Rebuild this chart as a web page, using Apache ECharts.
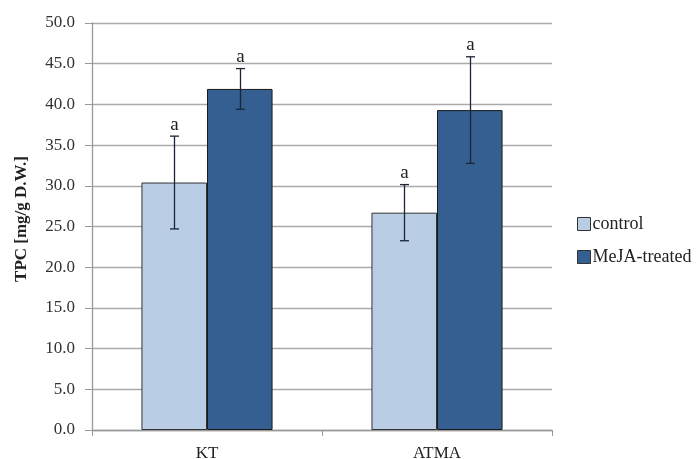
<!DOCTYPE html>
<html><head><meta charset="utf-8">
<script src="https://cdn.jsdelivr.net/npm/echarts@6/dist/echarts.min.js"></script>
<style>html,body{margin:0;padding:0;background:#fff}#c{width:697px;height:459px}</style>
</head><body><div id="c"></div>
<script>
const categories = ['KT', 'ATMA'];
const seriesNames = ['control', 'MeJA-treated'];
const controlValues = [30.4, 26.7];
const controlErrors = [5.7, 3.45];
const mejaValues = [41.9, 39.3];
const mejaErrors = [2.5, 6.55];
const controlLetters = ['a', 'a'];
const mejaLetters = ['a', 'a'];
const yTicks = [0, 50, 5];

const FONT = '"Liberation Serif", "DejaVu Serif", serif';
const GAP = 0.43;

function errSeries(idx, values, errors, lets) {
  const data = categories.map((c, i) => [i, values[i], values[i] - errors[i], values[i] + errors[i]]);
  return {
    type: 'custom', name: seriesNames[idx] + ' err', z: 10, silent: true,
    data: data,
    encode: { x: 0, y: [2, 3] },
    renderItem: function (params, api) {
      const x = api.value(0);
      const catW = api.size([1, 0])[0];
      const bw = catW * (1 - GAP) / 2;
      const off = (idx === 0 ? -0.5 : 0.5) * bw;
      const lo = api.coord([x, api.value(2)]);
      const hi = api.coord([x, api.value(3)]);
      const cx = Math.round(lo[0] + off) + 0.5;
      const cap = 4.5;
      const st = { stroke: '#1b2535', lineWidth: 1.3 };
      return {
        type: 'group', children: [
          { type: 'line', shape: { x1: cx, y1: lo[1], x2: cx, y2: hi[1] }, style: st },
          { type: 'line', shape: { x1: cx - cap, y1: lo[1], x2: cx + cap, y2: lo[1] }, style: st },
          { type: 'line', shape: { x1: cx - cap, y1: hi[1], x2: cx + cap, y2: hi[1] }, style: st },
          { type: 'text', style: { text: lets[params.dataIndex], x: cx, y: hi[1] - 2, textAlign: 'center', textVerticalAlign: 'bottom', font: '19px ' + FONT, fill: '#222' } }
        ]
      };
    }
  };
}

const chart = echarts.init(document.getElementById('c'));
chart.setOption({
  animation: false,
  textStyle: { fontFamily: FONT },
  grid: { left: 92, right: 145, top: 23, bottom: 29, containLabel: false, outerBoundsMode: 'none' },
  legend: {
    orient: 'vertical', left: 572, top: 210, itemGap: 15, itemWidth: 13, itemHeight: 13,
    data: seriesNames.map(n => ({ name: n, icon: 'rect' })),
    itemStyle: { borderColor: '#333', borderWidth: 1 },
    textStyle: { fontSize: 18, color: '#222', fontFamily: FONT, padding: [0, 0, 0, -3] }
  },
  xAxis: {
    type: 'category', data: categories,
    axisLine: { lineStyle: { color: '#999', width: 1.3 } },
    axisTick: { show: true, length: 6, lineStyle: { color: '#999' } },
    axisLabel: { fontSize: 17, color: '#222', margin: 15, fontFamily: FONT }
  },
  yAxis: {
    type: 'value', min: yTicks[0], max: yTicks[1], interval: yTicks[2],
    name: 'TPC [mg/g D.W.]', nameLocation: 'middle', nameGap: 62, nameRotate: 90,
    nameTextStyle: { fontSize: 17, fontWeight: 'bold', color: '#222', fontFamily: FONT, padding: [0, 0, 0, 15] },
    axisLine: { show: true, lineStyle: { color: '#999', width: 1.3 } },
    axisTick: { show: true, length: 7, lineStyle: { color: '#999' } },
    axisLabel: { fontSize: 17, color: '#333', margin: 17, formatter: v => v.toFixed(1), fontFamily: FONT },
    splitLine: { lineStyle: { color: '#aaa', width: 1.3 } }
  },
  series: [
    { type: 'bar', name: seriesNames[0], data: controlValues, barGap: '0%', barCategoryGap: '43%',
      itemStyle: { color: '#B9CDE5', borderColor: '#333', borderWidth: 1 } },
    { type: 'bar', name: seriesNames[1], data: mejaValues, barGap: '0%', barCategoryGap: '43%',
      itemStyle: { color: '#365F91', borderColor: '#1a1a1a', borderWidth: 1 } },
    errSeries(0, controlValues, controlErrors, controlLetters),
    errSeries(1, mejaValues, mejaErrors, mejaLetters)
  ]
});
</script></body></html>
